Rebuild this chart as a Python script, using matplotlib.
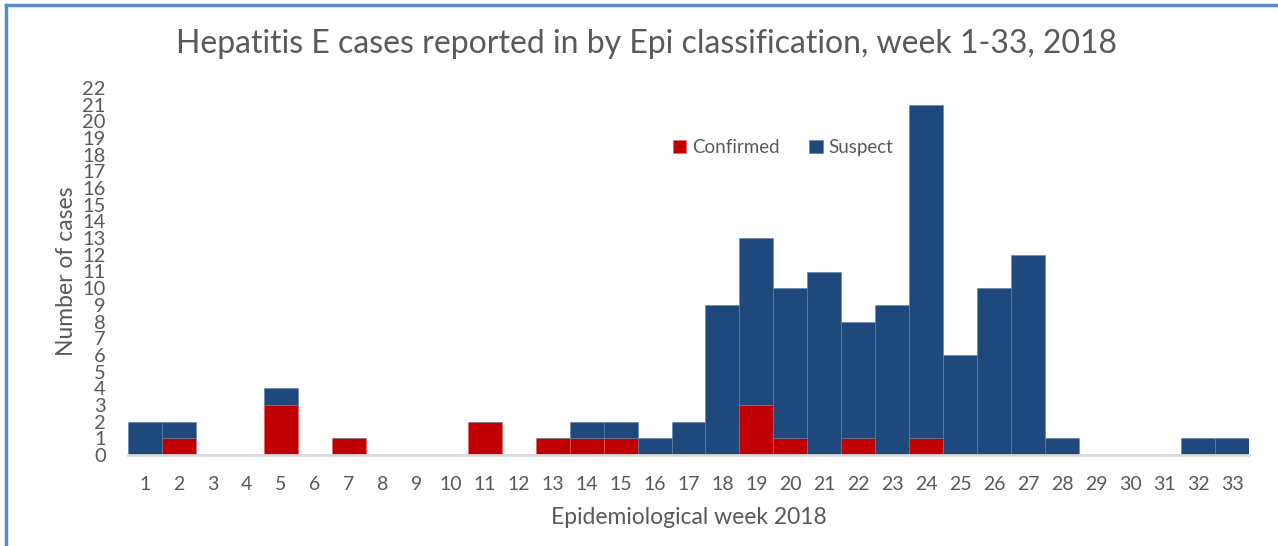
import numpy as np
import matplotlib.pyplot as plt
from matplotlib.lines import Line2D

weeks = list(range(1, 34))
confirmed = [0, 1, 0, 0, 3, 0, 1, 0, 0, 0, 2, 0, 1, 1, 1, 0, 0, 0, 3, 1, 0, 1, 0, 1, 0, 0, 0, 0, 0, 0, 0, 0, 0]
suspect = [2, 1, 0, 0, 1, 0, 0, 0, 0, 0, 0, 0, 0, 1, 1, 1, 2, 9, 10, 9, 11, 7, 9, 20, 6, 10, 12, 1, 0, 0, 0, 1, 1]

red = "#C00000"
blue = "#1F497D"
grey = "#595959"

plt.rcParams['font.family'] = ['Lato', 'DejaVu Sans']

fig = plt.figure(figsize=(12.78, 5.46), dpi=100)
ax = fig.add_axes([128 / 1278, 1 - 455 / 546, (1249 - 128) / 1278, (455 - 88) / 546])

ax.bar(weeks, confirmed, width=1.0, color=red, edgecolor="#e06060", linewidth=0.4, label="Confirmed")
ax.bar(weeks, suspect, width=1.0, bottom=confirmed, color=blue, edgecolor="#5f80aa", linewidth=0.4, label="Suspect")

ax.set_xlim(0.5, 33.5)
ax.set_ylim(0, 22)
ax.set_xticks(weeks)
ax.set_yticks(range(0, 23))
ax.tick_params(axis="both", length=0, colors=grey)
ax.tick_params(axis="x", pad=15, labelsize=14)
ax.tick_params(axis="y", pad=16, labelsize=14.5)
for s in ["top", "right", "left"]:
    ax.spines[s].set_visible(False)
ax.spines["bottom"].set_color("#d9d9d9")
ax.spines["bottom"].set_linewidth(2)

ax.set_xlabel("Epidemiological week 2018", fontsize=16.5, color=grey, labelpad=10)
ax.set_ylabel("Number of cases", fontsize=16.5, color=grey, labelpad=4)

fig.text(646 / 1278, 1 - 44 / 546, "Hepatitis E cases reported in by Epi classification, week 1-33, 2018",
         ha="center", va="center", fontsize=23, color=grey)

fig.legend(loc="center", bbox_to_anchor=(783 / 1278, 1 - 148 / 546), ncol=2, frameon=False,
           fontsize=13.5, handlelength=0.7, handleheight=0.7, handletextpad=0.3, columnspacing=1.6,
           labelcolor=grey)

fig.add_artist(Line2D([6 / 1278, 1], [1 - 5 / 546, 1 - 5 / 546], color="#5B8BC9", linewidth=2.5))
fig.add_artist(Line2D([6 / 1278, 6 / 1278], [0, 1 - 5 / 546], color="#5B8BC9", linewidth=2.5))

fig.savefig("out.png", dpi=100)
